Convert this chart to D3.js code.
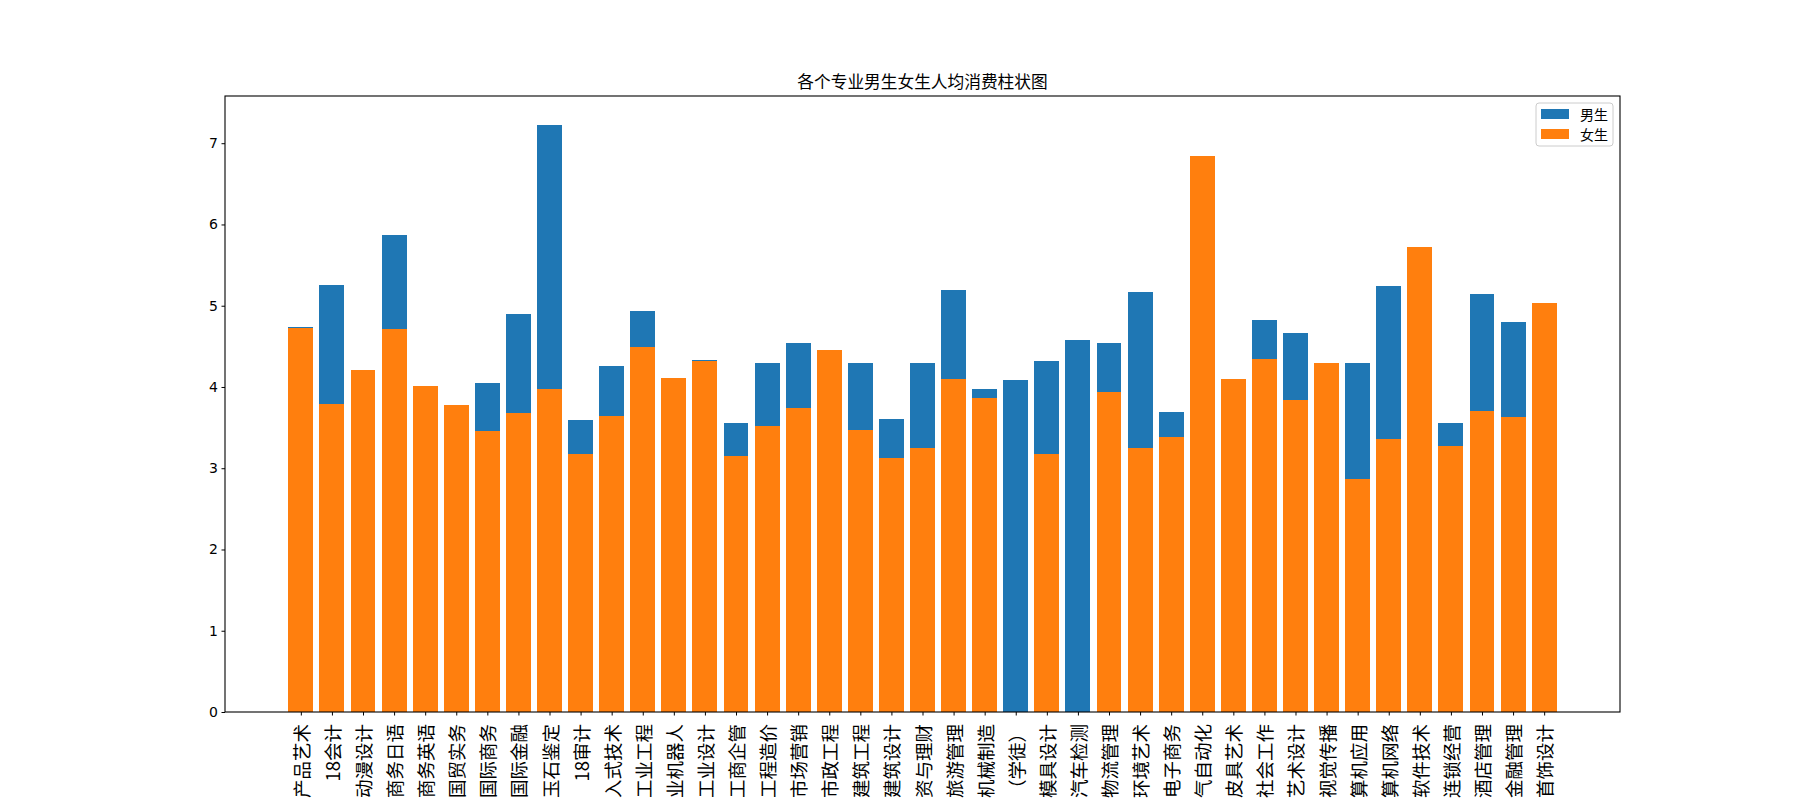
<!DOCTYPE html>
<html lang="zh">
  <head>
    <meta charset="UTF-8" />
    <title>各个专业男生女生人均消费柱状图</title>
    <script src="https://cdn.jsdelivr.net/npm/d3@7"></script>
    <style>
      body {
        margin: 0;
        background: #fff;
      }
      svg {
        display: block;
        font-family: "Noto Sans CJK SC", "DejaVu Sans", sans-serif;
      }
    </style>
  </head>

  <body>
    <div id="chart"></div>
    <script>
      // 专业名称（横轴标签，按图中可见部分）
      const majors = [
        "产品艺术", "18会计", "动漫设计", "商务日语", "商务英语", "国贸实务",
        "国际商务", "国际金融", "玉石鉴定", "18审计", "入式技术", "工业工程",
        "业机器人", "工业设计", "工商企管", "工程造价", "市场营销", "市政工程",
        "建筑工程", "建筑设计", "资与理财", "旅游管理", "机械制造", "（学徒）",
        "模具设计", "汽车检测", "物流管理", "环境艺术", "电子商务", "气自动化",
        "皮具艺术", "社会工作", "艺术设计", "视觉传播", "算机应用", "算机网络",
        "软件技术", "连锁经营", "酒店管理", "金融管理", "首饰设计"
      ];

      // 男生人均消费
      const maleValues = [
        4.74, 5.25, 3.9, 5.87, 3.7, 3.5, 4.05, 4.9, 7.22, 3.59, 4.26, 4.94,
        3.8, 4.33, 3.56, 4.3, 4.54, 4.2, 4.3, 3.61, 4.3, 5.19, 3.98, 4.08,
        4.32, 4.58, 4.54, 5.17, 3.69, 5.9, 3.6, 4.82, 4.67, 4.0, 4.3, 5.24,
        5.1, 3.56, 5.14, 4.8, 4.6
      ];

      // 女生人均消费
      const femaleValues = [
        4.72, 3.79, 4.21, 4.71, 4.01, 3.78, 3.46, 3.68, 3.98, 3.17, 3.64, 4.49,
        4.11, 4.32, 3.15, 3.52, 3.74, 4.45, 3.47, 3.12, 3.25, 4.1, 3.86, 0,
        3.17, 0, 3.94, 3.25, 3.38, 6.84, 4.1, 4.34, 3.84, 4.3, 2.87, 3.36,
        5.72, 3.27, 3.71, 3.63, 5.03
      ];

      const yTicks = [0, 1, 2, 3, 4, 5, 6, 7];

      const seriesNames = ["男生", "女生"];
      const colors = ["#1f77b4", "#ff7f0e"];

      const width = 1800;
      const height = 800;
      const margin = { left: 225, right: 180, top: 96, bottom: 88 };
      const plotRight = width - margin.right;
      const plotBottom = height - margin.bottom;
      const barWidth = 0.8;

      const n = majors.length;
      const span = n - 1 + barWidth;
      const x = d3
        .scaleLinear()
        .domain([-barWidth / 2 - 0.05 * span, n - 1 + barWidth / 2 + 0.05 * span])
        .range([margin.left, plotRight]);

      const yMax = d3.max(maleValues.concat(femaleValues)) * 1.05;
      const y = d3.scaleLinear().domain([0, yMax]).range([plotBottom, margin.top]);

      const svg = d3
        .select("#chart")
        .append("svg")
        .attr("width", width)
        .attr("height", height);

      // 男生柱子先画，女生柱子覆盖在上面
      [maleValues, femaleValues].forEach((vals, s) => {
        svg
          .append("g")
          .attr("shape-rendering", "crispEdges")
          .selectAll("rect")
          .data(vals)
          .enter()
          .append("rect")
          .attr("x", (d, i) => x(i - barWidth / 2))
          .attr("y", (d) => y(d))
          .attr("width", x(barWidth) - x(0))
          .attr("height", (d) => plotBottom - y(d))
          .attr("fill", colors[s]);
      });

      // y 轴
      const yAxis = svg
        .append("g")
        .attr("transform", `translate(${margin.left},0)`)
        .call(d3.axisLeft(y).tickValues(yTicks).tickSize(3.5).tickPadding(3.5).tickFormat(d3.format("d")));
      yAxis.select(".domain").remove();
      yAxis.selectAll("text").attr("font-size", 14).attr("fill", "#000").style("font-family", "'DejaVu Sans', sans-serif");
      yAxis.selectAll("line").attr("stroke", "#000");

      // x 轴
      const xAxis = svg
        .append("g")
        .attr("transform", `translate(0,${plotBottom})`)
        .call(d3.axisBottom(x).tickValues(d3.range(n)).tickSize(3.5).tickFormat(""));
      xAxis.select(".domain").remove();
      xAxis.selectAll("line").attr("stroke", "#000");

      svg
        .append("g")
        .selectAll("text")
        .data(majors)
        .enter()
        .append("text")
        .attr("transform", (d, i) => `translate(${x(i)},${plotBottom + 12}) rotate(-90)`)
        .attr("text-anchor", "end")
        .attr("dominant-baseline", "central")
        .attr("font-size", 18.5)
        .attr("fill", "#000")
        .text((d) => d);

      // 边框
      svg
        .append("rect")
        .attr("x", margin.left)
        .attr("y", margin.top)
        .attr("width", plotRight - margin.left)
        .attr("height", plotBottom - margin.top)
        .attr("fill", "none")
        .attr("stroke", "#000")
        .attr("stroke-width", 1.1);

      // 标题
      svg
        .append("text")
        .attr("x", (margin.left + plotRight) / 2)
        .attr("y", margin.top - 8)
        .attr("text-anchor", "middle")
        .attr("font-size", 16.7)
        .attr("fill", "#000")
        .text("各个专业男生女生人均消费柱状图");

      // 图例
      const legend = svg.append("g").attr("transform", "translate(1536,103)");
      legend
        .append("rect")
        .attr("width", 77)
        .attr("height", 43)
        .attr("rx", 3)
        .attr("fill", "#fff")
        .attr("fill-opacity", 0.8)
        .attr("stroke", "#ccc");
      seriesNames.forEach((name, i) => {
        legend
          .append("rect")
          .attr("x", 5)
          .attr("y", 6 + i * 20)
          .attr("width", 28)
          .attr("height", 10)
          .attr("fill", colors[i]);
        legend
          .append("text")
          .attr("x", 44)
          .attr("y", 11 + i * 20)
          .attr("dominant-baseline", "central")
          .attr("font-size", 14)
          .attr("fill", "#000")
          .text(name);
      });
    </script>
  </body>
</html>
